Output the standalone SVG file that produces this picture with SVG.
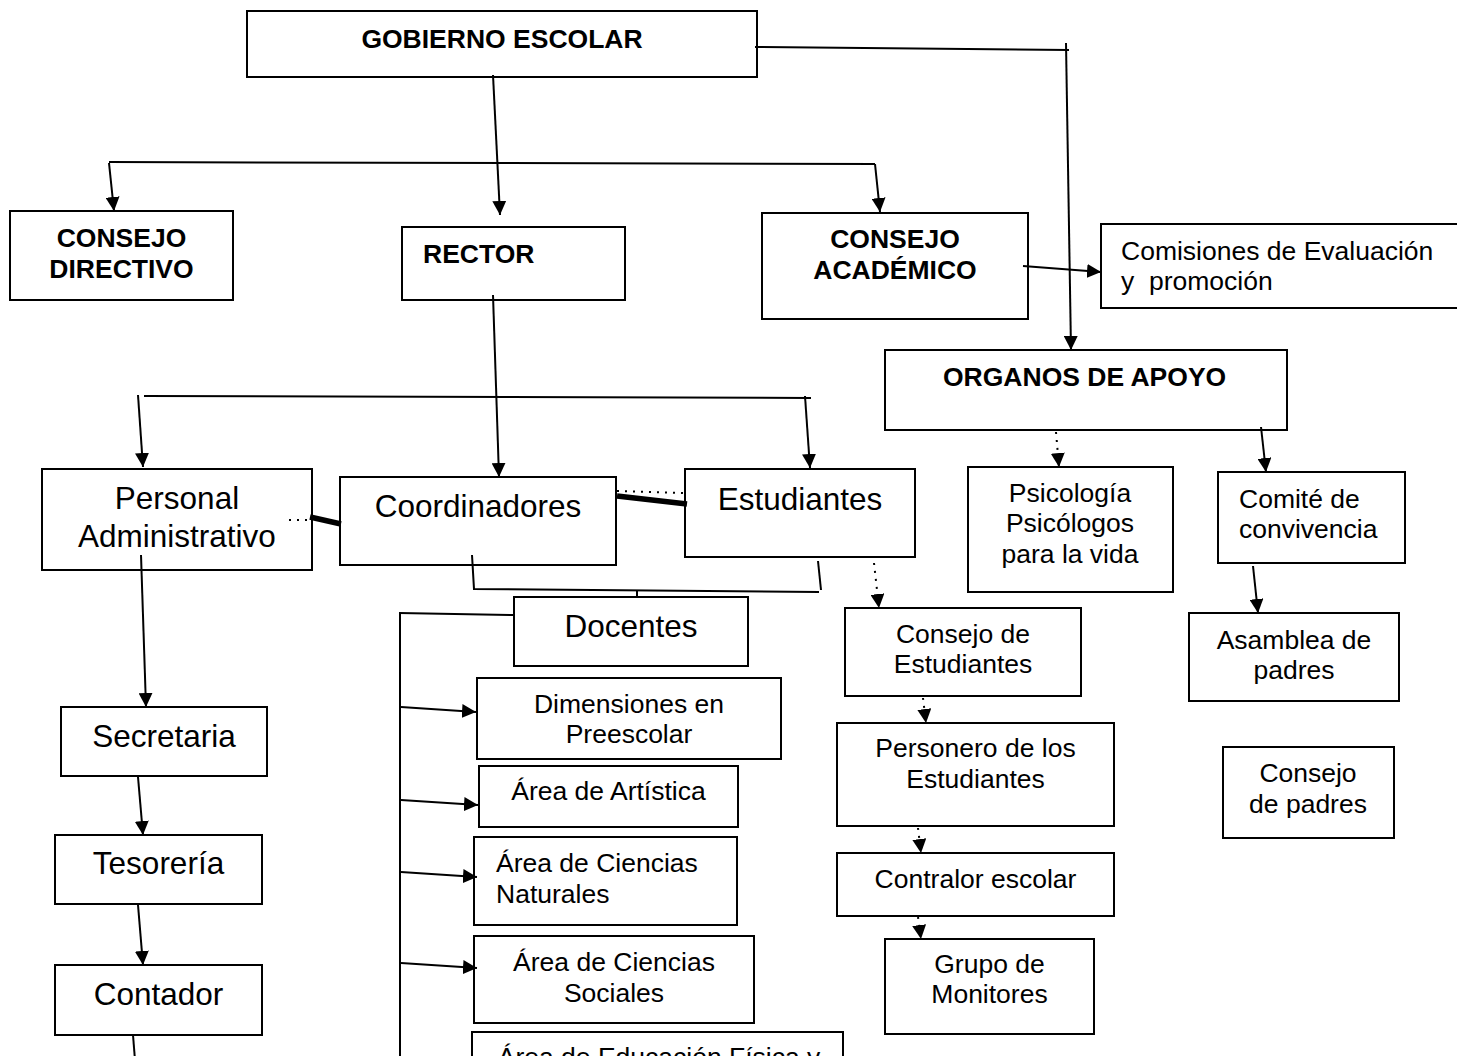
<svg xmlns="http://www.w3.org/2000/svg" width="1457" height="1056" viewBox="0 0 1457 1056">
<style>
rect{fill:#fff;stroke:#000;stroke-width:2}
text{font-family:"Liberation Sans",Arial,sans-serif;fill:#000}
.b{font-size:26.5px;font-weight:bold}
.r{font-size:26.5px}
.L{font-size:31.5px}
.m{text-anchor:middle}
#connectors line,#connectors polyline{stroke:#000;stroke-width:2;fill:none}
#connectors .a{marker-end:url(#ah)}
#connectors .d{stroke-dasharray:2 6}
#connectors .t{stroke-width:5.5}
</style>
<defs>
<marker id="ah" markerUnits="userSpaceOnUse" markerWidth="14" markerHeight="14" viewBox="0 0 14 14" refX="14" refY="7" orient="auto">
<path d="M0,0 L14,7 L0,14 z" fill="#000"/>
</marker>
</defs>
<rect x="-10" y="-10" width="1477" height="1076" style="stroke:none"/>

<g id="gobierno"><rect x="247" y="11" width="510" height="66"/><text class="b m" x="502" y="48">GOBIERNO ESCOLAR</text></g>
<g id="consejo-directivo"><rect x="10" y="211" width="223" height="89"/><text class="b m" x="121.5" y="247">CONSEJO</text><text class="b m" x="121.5" y="278">DIRECTIVO</text></g>
<g id="rector"><rect x="402" y="227" width="223" height="73"/><text class="b" x="423" y="263">RECTOR</text></g>
<g id="consejo-academico"><rect x="762" y="213" width="266" height="106"/><text class="b m" x="895" y="248">CONSEJO</text><text class="b m" x="895" y="279">ACADÉMICO</text></g>
<g id="comisiones"><rect x="1101" y="224" width="370" height="84"/><text class="r" x="1121" y="260">Comisiones de Evaluación</text><text class="r" x="1121" y="290" xml:space="preserve">y  promoción</text></g>
<g id="organos"><rect x="885" y="350" width="402" height="80"/><text class="b" x="943" y="386">ORGANOS DE APOYO</text></g>
<g id="personal"><rect x="42" y="469" width="270" height="101"/><text class="L m" x="177" y="509">Personal</text><text class="L m" x="177" y="547">Administrativo</text></g>
<g id="coordinadores"><rect x="340" y="477" width="276" height="88"/><text class="L m" x="478" y="517">Coordinadores</text></g>
<g id="estudiantes"><rect x="685" y="469" width="230" height="88"/><text class="L m" x="800" y="510">Estudiantes</text></g>
<g id="psicologia"><rect x="968" y="467" width="205" height="125"/><text class="r m" x="1070" y="502">Psicología</text><text class="r m" x="1070" y="532">Psicólogos</text><text class="r m" x="1070" y="563">para la vida</text></g>
<g id="comite"><rect x="1218" y="472" width="187" height="91"/><text class="r" x="1239" y="508">Comité de</text><text class="r" x="1239" y="538">convivencia</text></g>
<g id="asamblea"><rect x="1189" y="613" width="210" height="88"/><text class="r m" x="1294" y="649">Asamblea de</text><text class="r m" x="1294" y="679">padres</text></g>
<g id="consejo-padres"><rect x="1223" y="747" width="171" height="91"/><text class="r m" x="1308" y="782">Consejo</text><text class="r m" x="1308" y="813">de padres</text></g>
<g id="docentes"><rect x="514" y="597" width="234" height="69"/><text class="L m" x="631" y="637">Docentes</text></g>
<g id="consejo-estudiantes"><rect x="845" y="608" width="236" height="88"/><text class="r m" x="963" y="643">Consejo de</text><text class="r m" x="963" y="673">Estudiantes</text></g>
<g id="personero"><rect x="837" y="723" width="277" height="103"/><text class="r m" x="975.5" y="757">Personero de los</text><text class="r m" x="975.5" y="788">Estudiantes</text></g>
<g id="contralor"><rect x="837" y="853" width="277" height="63"/><text class="r m" x="975.5" y="888">Contralor escolar</text></g>
<g id="monitores"><rect x="885" y="939" width="209" height="95"/><text class="r m" x="989.5" y="973">Grupo de</text><text class="r m" x="989.5" y="1003">Monitores</text></g>
<g id="secretaria"><rect x="61" y="707" width="206" height="69"/><text class="L m" x="164" y="747">Secretaria</text></g>
<g id="tesoreria"><rect x="55" y="835" width="207" height="69"/><text class="L m" x="158.5" y="874">Tesorería</text></g>
<g id="contador"><rect x="55" y="965" width="207" height="70"/><text class="L m" x="158.5" y="1005">Contador</text></g>
<g id="dimensiones"><rect x="477" y="678" width="304" height="81"/><text class="r m" x="629" y="713">Dimensiones en</text><text class="r m" x="629" y="743">Preescolar</text></g>
<g id="artistica"><rect x="479" y="766" width="259" height="61"/><text class="r m" x="608.5" y="800">Área de Artística</text></g>
<g id="naturales"><rect x="474" y="837" width="263" height="88"/><text class="r" x="496" y="872">Área de Ciencias</text><text class="r" x="496" y="903">Naturales</text></g>
<g id="sociales"><rect x="474" y="936" width="280" height="87"/><text class="r m" x="614" y="971">Área de Ciencias</text><text class="r m" x="614" y="1002">Sociales</text></g>
<g id="educacion-fisica"><rect x="472" y="1032" width="371" height="60"/><text class="r m" x="659" y="1066">Área de Educación Física y</text></g>

<g id="connectors">
<line x1="755" y1="47" x2="1069" y2="50"/>
<line class="a" x1="1066" y1="43" x2="1071" y2="350"/>
<line class="a" x1="493" y1="75" x2="500" y2="215"/>
<line x1="109" y1="162" x2="875" y2="164"/>
<line class="a" x1="109" y1="163" x2="114" y2="211"/>
<line class="a" x1="875" y1="164" x2="880" y2="212"/>
<line class="a" x1="1023" y1="266" x2="1101" y2="272"/>
<line class="a" x1="493" y1="295" x2="499" y2="477"/>
<line x1="144" y1="396" x2="811" y2="398"/>
<line class="a" x1="138" y1="395" x2="143" y2="467"/>
<line class="a" x1="805" y1="396" x2="810" y2="468"/>
<line class="t" x1="310" y1="517" x2="341" y2="524"/>
<line class="d" x1="289" y1="520" x2="308" y2="520"/>
<line class="t" x1="617" y1="496" x2="687" y2="504"/>
<line class="d" x1="617" y1="491" x2="685" y2="493"/>
<polyline points="472,555 474,589 819,592"/>
<line x1="818" y1="561" x2="821" y2="590"/>
<line x1="637" y1="590" x2="637" y2="597"/>
<polyline points="399,613 514,615"/>
<line x1="400" y1="614" x2="400" y2="1060"/>
<line class="a" x1="401" y1="707" x2="476" y2="712"/>
<line class="a" x1="401" y1="800" x2="478" y2="805"/>
<line class="a" x1="401" y1="872" x2="477" y2="877"/>
<line class="a" x1="401" y1="963" x2="477" y2="968"/>
<line class="a" x1="141" y1="555" x2="146" y2="707"/>
<line class="a" x1="138" y1="777" x2="143" y2="835"/>
<line class="a" x1="138" y1="905" x2="143" y2="965"/>
<line x1="133" y1="1035" x2="135" y2="1060"/>
<line class="a d" x1="1056" y1="432" x2="1059" y2="467"/>
<line class="a" x1="1261" y1="427" x2="1266" y2="472"/>
<line class="a" x1="1253" y1="566" x2="1258" y2="613"/>
<line class="a d" x1="874" y1="563" x2="879" y2="608"/>
<line class="a d" x1="923" y1="698" x2="926" y2="723"/>
<line class="a d" x1="918" y1="828" x2="921" y2="853"/>
<line class="a d" x1="918" y1="917" x2="921" y2="939"/>
</g>
</svg>
